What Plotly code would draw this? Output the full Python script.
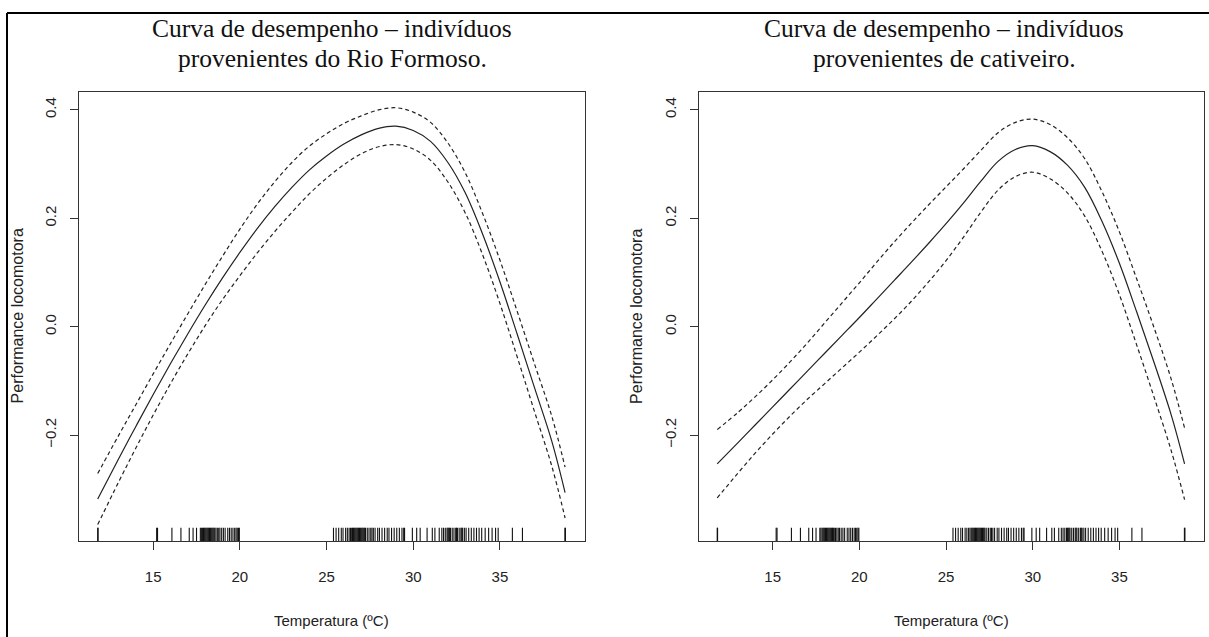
import plotly.graph_objects as go

# ---------------- data ----------------
temp_grid = [11.8, 13, 14, 15, 16, 17, 18, 19, 20, 21, 22, 23, 24, 25, 26, 27, 28,
             29, 30, 31, 32, 33, 34, 35, 36, 37, 38, 38.76]

# Rio Formoso
fit_rf = [-0.318, -0.244, -0.184, -0.125, -0.068, -0.013, 0.040, 0.090, 0.137, 0.181,
          0.221, 0.257, 0.289, 0.315, 0.337, 0.354, 0.366, 0.370, 0.362, 0.342,
          0.303, 0.247, 0.171, 0.083, -0.014, -0.113, -0.212, -0.306]
upper_rf = [-0.271, -0.201, -0.144, -0.087, -0.031, 0.024, 0.078, 0.130, 0.180, 0.226,
            0.267, 0.303, 0.333, 0.356, 0.375, 0.389, 0.400, 0.404, 0.396, 0.377,
            0.339, 0.284, 0.209, 0.123, 0.028, -0.069, -0.166, -0.259]
lower_rf = [-0.365, -0.287, -0.224, -0.163, -0.105, -0.050, 0.002, 0.050, 0.094, 0.136,
            0.175, 0.211, 0.245, 0.274, 0.299, 0.319, 0.332, 0.336, 0.328, 0.307,
            0.267, 0.210, 0.133, 0.043, -0.056, -0.157, -0.258, -0.353]

# cativeiro
fit_cat = [-0.253, -0.214, -0.181, -0.148, -0.115, -0.082, -0.049, -0.016, 0.017, 0.051,
           0.085, 0.119, 0.154, 0.190, 0.228, 0.268, 0.305, 0.327, 0.334, 0.323,
           0.298, 0.257, 0.194, 0.117, 0.027, -0.066, -0.164, -0.253]
upper_cat = [-0.190, -0.158, -0.129, -0.098, -0.065, -0.030, 0.007, 0.044, 0.081, 0.119,
             0.156, 0.191, 0.225, 0.258, 0.291, 0.325, 0.358, 0.377, 0.383, 0.373,
             0.349, 0.310, 0.249, 0.175, 0.088, -0.002, -0.098, -0.187]
lower_cat = [-0.316, -0.270, -0.233, -0.198, -0.165, -0.134, -0.105, -0.076, -0.047, -0.017,
             0.014, 0.047, 0.083, 0.122, 0.165, 0.211, 0.252, 0.277, 0.285, 0.273,
             0.247, 0.204, 0.139, 0.059, -0.034, -0.130, -0.230, -0.319]

# observed temperatures (rug)
rug_temps = [11.8, 11.82, 15.2, 15.25, 16.08, 16.6, 17.08, 17.3, 17.5,
             17.72, 17.78, 17.85, 17.9, 17.95, 18.0, 18.05, 18.1, 18.15, 18.2, 18.25, 18.3,
             18.35, 18.4, 18.45, 18.5, 18.55, 18.62, 18.7, 18.78, 18.85, 18.95, 19.05,
             19.15, 19.3, 19.4, 19.5, 19.6, 19.7, 19.78, 19.85, 19.92, 19.97,
             25.4, 25.55, 25.7, 25.85, 25.95, 26.1, 26.2, 26.3, 26.38, 26.45, 26.5, 26.55,
             26.6, 26.65, 26.7, 26.75, 26.8, 26.85, 26.9, 26.95, 27.0, 27.05, 27.1, 27.15,
             27.2, 27.25, 27.35, 27.45, 27.55, 27.62, 27.7, 27.8, 27.95, 28.05, 28.2, 28.35,
             28.5, 28.6, 28.75, 28.9, 29.05, 29.2, 29.35, 29.45, 29.5,
             29.95, 30.2, 30.4, 30.8, 31.1, 31.25, 31.5, 31.65, 31.75, 31.85, 31.95, 32.0,
             32.05, 32.1, 32.15, 32.25, 32.35, 32.45, 32.5, 32.55, 32.65, 32.75, 32.8,
             32.85, 32.95, 33.05, 33.2, 33.35, 33.5, 33.65, 33.8, 33.95, 34.15, 34.35,
             34.55, 34.75, 34.9, 35.72, 36.3, 38.75, 38.78]

x_ticks = [15, 20, 25, 30, 35]
y_ticks = [-0.2, 0.0, 0.2, 0.4]

titles = [["Curva de desempenho – indivíduos", "provenientes do Rio Formoso."],
          ["Curva de desempenho – indivíduos", "provenientes de cativeiro."]]
x_title = "Temperatura (ºC)"
y_title = "Performance locomotora"

# ---------------- figure ----------------
W, H = 1209, 637
X_RANGE = [10.72, 39.88]
Y_RANGE = [-0.396, 0.434]
RUG_FRAC = 0.03

fig = go.Figure()

panels = [
    (fit_rf, upper_rf, lower_rf, "x", "y"),
    (fit_cat, upper_cat, lower_cat, "x2", "y2"),
]

line_col = "#222222"
for fit, up, lo, xa, ya in panels:
    for vals, dash in ((up, "4px,3px"), (lo, "4px,3px"), (fit, "solid")):
        fig.add_trace(go.Scatter(
            x=temp_grid, y=vals, xaxis=xa, yaxis=ya, mode="lines",
            line=dict(color=line_col, width=1.2, dash=dash, shape="spline", smoothing=1.0),
            hoverinfo="skip", showlegend=False))
    rx, ry = [], []
    y0 = Y_RANGE[0]
    y1 = Y_RANGE[0] + RUG_FRAC * (Y_RANGE[1] - Y_RANGE[0])
    for t in rug_temps:
        rx += [t, t, None]
        ry += [y0, y1, None]
    fig.add_trace(go.Scatter(
        x=rx, y=ry, xaxis=xa, yaxis=ya, mode="lines",
        line=dict(color="#111111", width=1.1), hoverinfo="skip", showlegend=False))

tick_font = dict(family="Liberation Sans, Arial, sans-serif", size=15, color="#222222")
axis_common = dict(showline=True, mirror=True, linecolor="#333333", linewidth=1,
                   ticks="outside", ticklen=8, tickwidth=1, tickcolor="#333333",
                   showgrid=False, zeroline=False, tickfont=tick_font)

x_dom = [[79 / W, 584.5 / W], [698.5 / W, 1204 / W]]
y_dom = [(H - 541.3) / H, (H - 91.5) / H]

layout = dict(
    width=W, height=H, margin=dict(l=0, r=0, t=0, b=0),
    paper_bgcolor="white", plot_bgcolor="white", showlegend=False,
)
for i, (xa, ya) in enumerate((("xaxis", "yaxis"), ("xaxis2", "yaxis2"))):
    anchor_y = "y" if i == 0 else "y2"
    anchor_x = "x" if i == 0 else "x2"
    layout[xa] = dict(domain=x_dom[i], range=X_RANGE, anchor=anchor_y,
                      tickvals=x_ticks, ticklabelstandoff=14, **axis_common)
    layout[ya] = dict(domain=y_dom, range=Y_RANGE, anchor=anchor_x,
                      tickvals=y_ticks, tickformat=".1f", tickangle=-90,
                      ticklabelstandoff=8, **axis_common)
fig.update_layout(**layout)

ann = []
title_font = dict(family="Liberation Serif, Times New Roman, serif", size=25.5, color="#111111")
xlabel_font = dict(family="Liberation Sans, Arial, sans-serif", size=15, color="#222222")
ylabel_font = dict(family="Liberation Sans, Arial, sans-serif", size=16, color="#222222")
title_cx = [332, 944]
for i in range(2):
    for j, txt in enumerate(titles[i]):
        ann.append(dict(text=txt, x=title_cx[i] / W, y=1 - (29 + 29 * j) / H,
                        xref="paper", yref="paper", xanchor="center", yanchor="middle",
                        showarrow=False, font=title_font))
    cx = (x_dom[i][0] + x_dom[i][1]) / 2
    ann.append(dict(text=x_title, x=cx, y=1 - 620 / H, xref="paper", yref="paper",
                    xanchor="center", yanchor="middle", showarrow=False, font=xlabel_font))
    ann.append(dict(text=y_title, x=x_dom[i][0] - 62 / W, y=(y_dom[0] + y_dom[1]) / 2,
                    xref="paper", yref="paper", xanchor="center", yanchor="middle",
                    textangle=-90, showarrow=False, font=ylabel_font))
fig.update_layout(annotations=ann)

# outer frame (top and left edges visible)
fig.add_shape(type="line", xref="paper", yref="paper", x0=7 / W, x1=1.0, y0=1 - 13 / H, y1=1 - 13 / H,
              line=dict(color="black", width=2))
fig.add_shape(type="line", xref="paper", yref="paper", x0=7 / W, x1=7 / W, y0=0, y1=1 - 13 / H,
              line=dict(color="black", width=2))

fig.write_html("out.html")
